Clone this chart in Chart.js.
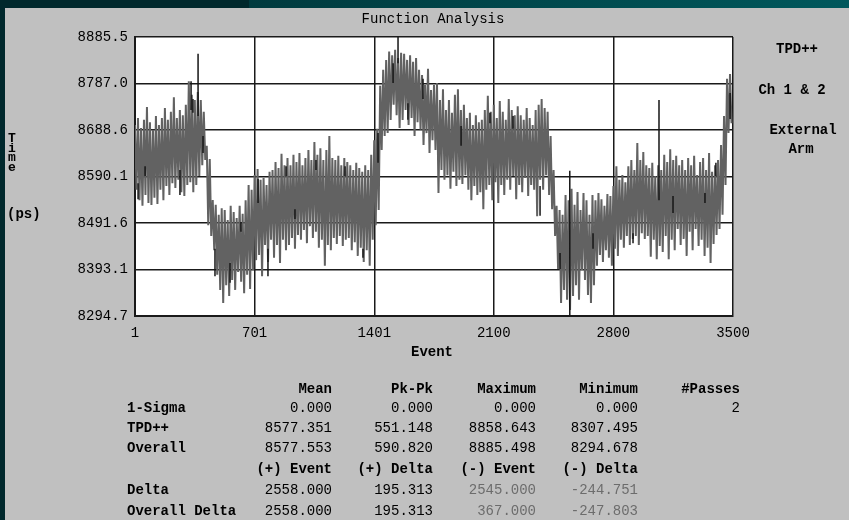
<!DOCTYPE html>
<html>
<head>
<meta charset="utf-8">
<script src="https://cdn.jsdelivr.net/npm/chart.js@4.4.1/dist/chart.umd.min.js"></script>
<style>
  html, body { margin: 0; padding: 0; }
  body {
    width: 849px; height: 520px; position: relative; overflow: hidden;
    background: #00282c;
    font-family: 'Liberation Mono', 'DejaVu Sans Mono', monospace;
    font-size: 14px; color: #000;
  }
  #topbar { position: absolute; left: 249px; top: 0; width: 600px; height: 8px;
            background: linear-gradient(90deg, #003a3e, #00585c); }
  #panel { position: absolute; left: 5px; top: 8px; width: 844px; height: 512px; background: #c0c0c0; }
  #chart { position: absolute; left: 0; top: 0; }
  .t { position: absolute; white-space: pre; line-height: 20px; }
  .c { transform: translateX(-50%); }
  .r { transform: translateX(-100%); }
  .b { font-weight: bold; }
  .s { font-size: 13px; }
  .dim { color: #6c6c6c; }
</style>
</head>
<body>
<div id="topbar"></div>
<div id="panel"></div>
<canvas id="chart" width="849" height="520"></canvas>
<div id="labels"></div>
<script>
// Event axis tick positions
const eventTicks = [1, 701, 1401, 2100, 2800, 3500];
// Time axis tick positions (ps); shown with one decimal
const timeTicks = [8294.678, 8393.148, 8491.618, 8590.088, 8688.558, 8787.028, 8885.498];

// TPD++ pass: upper and lower reading in each sample window (ps)
const tpdHigh = [
  8699, 8714, 8693, 8710, 8737, 8705, 8689, 8718, 8699, 8714, 8735, 8710, 8727, 8758, 8714, 8731, 8720, 8742, 8792, 8763, 8752, 8769, 8752, 8727,
  8655, 8627,
  8540, 8530, 8509, 8523, 8519, 8498, 8528, 8515, 8502, 8528, 8511, 8540, 8572, 8562, 8593,
  8606, 8583, 8587, 8572, 8600, 8604, 8621, 8608, 8638, 8614,
  8629, 8614, 8636, 8621, 8640, 8614, 8629, 8646, 8625, 8663,
  8636, 8650, 8625, 8646, 8676, 8629,
  8625, 8634, 8614, 8629, 8621, 8614, 8604, 8619, 8608, 8600, 8614, 8604,
  8636, 8667, 8691, 8782, 8816,
  8837, 8855, 8847, 8858.643, 8841, 8852, 8850, 8837, 8847, 8833, 8841, 8816,
  8805, 8784, 8818, 8773,
  8784, 8788, 8752, 8775, 8731, 8752, 8725, 8763, 8775, 8731, 8742,
  8714, 8725, 8699, 8720, 8705, 8710,
  8731, 8761, 8727, 8742, 8714,
  8750, 8727, 8710, 8754, 8731, 8720,
  8739, 8720, 8710, 8735, 8714, 8699,
  8731, 8742, 8754, 8735, 8727,
  8676, 8604,
  8528, 8519, 8509,
  8551, 8540, 8564, 8530, 8557, 8519,
  8555, 8540, 8509, 8551,
  8540, 8555, 8542, 8528, 8553, 8549,
  8570, 8612, 8583, 8593, 8578, 8612, 8625,
  8604, 8661, 8625, 8642, 8614,
  8608, 8619, 8591, 8614, 8604,
  8636, 8621, 8648, 8625, 8634, 8614,
  8625, 8604, 8629, 8614, 8634, 8593, 8621,
  8629, 8604, 8640, 8600, 8614, 8625,
  8657, 8718, 8797, 8807
];
const tpdLow = [
  8562, 8540, 8528, 8551, 8534, 8530, 8545, 8532, 8562, 8540, 8570, 8551, 8576, 8566, 8583, 8557, 8549, 8572, 8578, 8557, 8572, 8591, 8614, 8625,
  8487, 8464,
  8434, 8382, 8350, 8322, 8360, 8337, 8371, 8350, 8388, 8367, 8343, 8382, 8352, 8392, 8413,
  8424, 8379, 8445, 8409, 8456, 8418, 8445, 8407, 8456, 8434,
  8445, 8460, 8437, 8466, 8456, 8477, 8449, 8485, 8460, 8473,
  8439, 8456, 8401, 8445, 8434, 8460,
  8447, 8464, 8443, 8456, 8460, 8434, 8451, 8422, 8439, 8409, 8434, 8401,
  8456, 8487, 8519, 8646, 8676,
  8682, 8710, 8742, 8720, 8693, 8710, 8731, 8699, 8714, 8676, 8705, 8689,
  8657, 8682, 8640, 8667,
  8646, 8555, 8604, 8583, 8593, 8564, 8600, 8570, 8583, 8574, 8593,
  8562, 8540, 8570, 8551, 8557, 8521,
  8562, 8572, 8540, 8578, 8534,
  8572, 8551, 8583, 8562, 8591, 8542,
  8572, 8557, 8587, 8549, 8572, 8562,
  8506, 8583, 8562, 8593, 8551,
  8521, 8464,
  8394, 8322, 8350,
  8329, 8307.495, 8337, 8360, 8329, 8392,
  8371, 8339, 8322, 8360,
  8401, 8424, 8409, 8434, 8418, 8401,
  8437, 8422, 8456, 8439, 8464, 8445, 8458,
  8464, 8445, 8470, 8458, 8464,
  8420, 8456, 8415, 8443, 8430,
  8464, 8415, 8456, 8434, 8479, 8445,
  8458, 8422, 8473, 8434, 8479, 8443, 8456,
  8422, 8439, 8407, 8447, 8466, 8479,
  8509, 8572, 8682, 8703
];

// Second pass: short excursions (event, top, bottom in ps)
const passEvents = [19, 60, 264, 329, 340, 370, 399, 469, 557, 621, 721, 779, 885, 937, 1060, 1230, 1335, 1423, 1511, 1540,
                    1598, 1686, 1909, 2078, 2213, 2371, 2488, 2545, 2681, 2915, 3067, 3149, 3336, 3400, 3483];
const passTop = [8576, 8612, 8604, 8792, 8754, 8850, 8676, 8437, 8407, 8494, 8585, 8437, 8612, 8521, 8625, 8612, 8437, 8682, 8830, 8885.498,
                 8745, 8797, 8697, 8725, 8718, 8570, 8428, 8602, 8470, 8470, 8752, 8549, 8555, 8619, 8767];
const passBottom = [8542, 8591, 8551, 8731, 8725, 8718, 8640, 8379, 8365, 8473, 8534, 8379, 8591, 8500, 8604, 8591, 8418, 8619, 8788, 8830,
                    8710, 8754, 8655, 8703, 8691, 8507, 8394, 8294.678, 8437, 8449, 8540, 8513, 8534, 8591, 8712];

// Statistics table
const statHeaders = ['Mean', 'Pk-Pk', 'Maximum', 'Minimum', '#Passes'];
const statRows = [
  { label: '1-Sigma', values: ['0.000', '0.000', '0.000', '0.000', '2'] },
  { label: 'TPD++', values: ['8577.351', '551.148', '8858.643', '8307.495', ''] },
  { label: 'Overall', values: ['8577.553', '590.820', '8885.498', '8294.678', ''] }
];
const deltaHeaders = ['(+) Event', '(+) Delta', '(-) Event', '(-) Delta'];
const deltaRows = [
  { label: 'Delta', values: ['2558.000', '195.313', '2545.000', '-244.751'] },
  { label: 'Overall Delta', values: ['2558.000', '195.313', '367.000', '-247.803'] }
];
const sideLabels = ['TPD++', 'Ch 1 & 2', 'External', 'Arm'];

// ---- build line data ----
const firstEvent = eventTicks[0], lastEvent = eventTicks[eventTicks.length - 1];
const step = (lastEvent - firstEvent) / tpdHigh.length;
const tpdPoints = [];
tpdHigh.forEach((hi, i) => {
  tpdPoints.push({ x: firstEvent + i * step, y: hi });
  tpdPoints.push({ x: firstEvent + i * step + step / 2, y: tpdLow[i] });
});
const passPoints = [];
passEvents.forEach((e, i) => {
  passPoints.push({ x: e, y: passTop[i] });
  passPoints.push({ x: e, y: passBottom[i] });
  passPoints.push({ x: e, y: null });
});

const plotBackground = {
  id: 'plotBackground',
  beforeDraw(chart) {
    const { ctx, chartArea: a } = chart;
    ctx.save();
    ctx.fillStyle = '#ffffff';
    ctx.fillRect(a.left, a.top, a.right - a.left, a.bottom - a.top);
    ctx.restore();
  }
};

const tickFont = { family: "'Liberation Mono', 'DejaVu Sans Mono', monospace", size: 14 };

new Chart(document.getElementById('chart'), {
  type: 'line',
  data: {
    datasets: [
      { label: 'Pass 2', data: passPoints, borderColor: '#161616', borderWidth: 1.5,
        pointRadius: 0, spanGaps: false, order: 0 },
      { label: 'TPD++', data: tpdPoints, borderColor: '#626262', borderWidth: 2,
        pointRadius: 0, order: 1 }
    ]
  },
  options: {
    responsive: false,
    animation: false,
    devicePixelRatio: 1,
    parsing: false,
    layout: { padding: { left: 0, right: 116, top: 37, bottom: 174 } },
    plugins: { legend: { display: false }, tooltip: { enabled: false }, title: { display: false } },
    elements: { line: { tension: 0 } },
    scales: {
      x: {
        type: 'linear', min: firstEvent, max: lastEvent,
        afterBuildTicks: s => { s.ticks = eventTicks.map(v => ({ value: v })); },
        afterFit: s => { s.height = 30; },
        ticks: { font: tickFont, color: '#000', padding: 9, maxRotation: 0, autoSkip: false,
                 callback: v => String(v) },
        grid: { color: '#1a1a1a', lineWidth: 1.5, drawTicks: false },
        border: { color: '#1a1a1a', width: 2 }
      },
      y: {
        type: 'linear', min: timeTicks[0], max: timeTicks[timeTicks.length - 1],
        afterBuildTicks: s => { s.ticks = timeTicks.map(v => ({ value: v })); },
        afterFit: s => { s.width = 135; },
        ticks: { font: tickFont, color: '#000', padding: 7, autoSkip: false,
                 callback: v => Number(v).toFixed(1) },
        grid: { color: '#1a1a1a', lineWidth: 1.5, drawTicks: false },
        border: { color: '#1a1a1a', width: 2 }
      }
    }
  },
  plugins: [plotBackground]
});

// ---- text around the plot ----
const host = document.getElementById('labels');
function put(text, x, y, cls) {
  const d = document.createElement('div');
  d.className = 't ' + (cls || '');
  d.textContent = text;
  d.style.left = x + 'px';
  d.style.top = (y - 10) + 'px';
  host.appendChild(d);
  return d;
}
put('Function Analysis', 433, 19, 'c');
put('Event', 432, 352, 'c b');
['T', 'i', 'm', 'e'].forEach((ch, i) => put(ch, 12, 139 + i * 9.5, 'c b s'));
put('(ps)', 7, 214, 'b');
const sideY = [49, 90, 130, 149];
const sideX = [797, 792, 803, 801];
sideLabels.forEach((s, i) => put(s, sideX[i], sideY[i], 'c b'));

const colRight = [332, 433, 536, 638, 740];
const labelLeft = 127;
statHeaders.forEach((h, i) => put(h, colRight[i], 389, 'r b'));
statRows.forEach((row, r) => {
  const y = 408 + r * 20;
  put(row.label, labelLeft, y, 'b');
  row.values.forEach((v, i) => { if (v) put(v, colRight[i], y, 'r'); });
});
deltaHeaders.forEach((h, i) => put(h, colRight[i], 469, 'r b'));
deltaRows.forEach((row, r) => {
  const y = 490 + r * 20.5;
  put(row.label, labelLeft, y, 'b');
  row.values.forEach((v, i) => put(v, colRight[i], y, 'r' + (i >= 2 ? ' dim' : '')));
});
</script>
</body>
</html>
